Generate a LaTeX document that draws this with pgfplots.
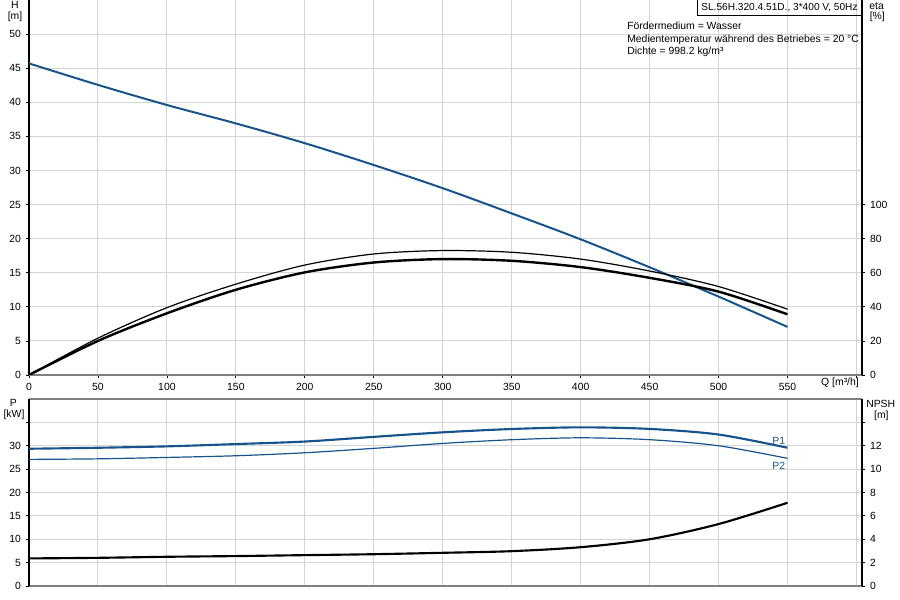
\documentclass[border=0pt]{standalone}
\usepackage{fontspec}
\setmainfont{Liberation Sans}
\usepackage{pgfplots}
\pgfplotsset{compat=1.18}

\definecolor{hblue}{RGB}{24,84,140}
\definecolor{gridgray}{RGB}{212,212,212}

\pgfplotsset{
  pump/.style={
    scale only axis,
    width=624.75pt,
    xmin=0, xmax=604,
    xtick={0,50,...,600},
    tick align=outside,
    major tick length=2.5pt,
    tick style={black, line width=0.6pt},
    grid=major,
    major grid style={gridgray, line width=0.75pt},
    ticklabel style={font=\fontsize{7.8}{9}\selectfont},
    /pgf/number format/assume math mode=true,
    axis line style={line width=0.9pt},
  },
}

\begin{document}
\begin{tikzpicture}[x=1pt,y=1pt]
\path[use as bounding box] (0,0) rectangle (675,450);

% ---- Q-H and efficiency ----
\begin{axis}[pump,
  at={(21.75pt,168.75pt)}, anchor=south west,
  height=281.25pt,
  ymin=0, ymax=55,
  ytick={0,5,...,50},
  xticklabels={0,50,100,150,200,250,300,350,400,450,500,550,},
  axis x line*=bottom, axis y line*=left,
  x axis line style={gray, line width=1pt},
]
\addplot[hblue, line width=1.5pt, smooth] coordinates {
  (0,45.7) (50,42.55) (100,39.6) (150,36.9) (200,34.0) (250,30.8)
  (300,27.4) (350,23.7) (400,19.9) (450,15.8) (500,11.5) (550,7.05)
};
\end{axis}

\begin{axis}[pump,
  at={(21.75pt,168.75pt)}, anchor=south west,
  height=281.25pt,
  ymin=0, ymax=220,
  ytick={0,20,...,100},
  grid=none,
  axis y line*=right, hide x axis,
]
\addplot[black, line width=0.9pt, smooth] coordinates {
  (0,0) (50,21.6) (100,39.5) (150,53.3) (200,64.5) (250,71)
  (300,73) (350,72) (400,68) (450,61) (500,51.9) (550,38.6)
};
\addplot[black, line width=1.8pt, smooth] coordinates {
  (0,0) (50,20) (100,36.2) (150,50) (200,60.2) (250,66)
  (300,68) (350,67) (400,63.3) (450,57) (500,48.9) (550,35.6)
};
\end{axis}

% ---- power and NPSH ----
\begin{axis}[pump,
  at={(21.75pt,10.5pt)}, anchor=south west,
  height=140.25pt,
  ymin=0, ymax=40,
  ytick={0,5,...,35},
  yticklabels={0,5,10,15,20,25,30,},
  xticklabels={},
  axis x line*=box, axis y line*=left,
  x axis line style={gray, line width=1pt},
  xtick style={draw=none},
]
\addplot[hblue, line width=1.6pt, smooth] coordinates {
  (0,29.36) (50,29.57) (100,29.87) (150,30.36) (200,30.9) (250,31.9)
  (300,32.87) (350,33.58) (400,33.94) (450,33.6) (500,32.4) (550,29.57)
};
\addplot[hblue, line width=0.9pt, smooth] coordinates {
  (0,27.08) (50,27.2) (100,27.5) (150,27.86) (200,28.5) (250,29.44)
  (300,30.5) (350,31.29) (400,31.7) (450,31.3) (500,30.0) (550,27.3)
};
\end{axis}

\begin{axis}[pump,
  at={(21.75pt,10.5pt)}, anchor=south west,
  height=140.25pt,
  ymin=0, ymax=16,
  ytick={0,2,...,14},
  yticklabels={0,2,4,6,8,10,12,},
  grid=none,
  axis y line*=right, hide x axis,
]
\addplot[black, line width=1.6pt, smooth] coordinates {
  (0,2.36) (50,2.41) (100,2.5) (150,2.56) (200,2.64) (250,2.72)
  (300,2.84) (350,2.98) (400,3.32) (450,4.0) (500,5.3) (550,7.12)
};
\end{axis}

% ---- labels ----
\begin{scope}[every node/.style={font=\fontsize{7.8}{9}\selectfont, inner sep=0pt}]
\node at (11.25,446) {H};
\node at (11.25,437.5) {[m]};
\node at (657.5,445.5) {eta};
\node at (658,437.25) {[\%]};
\node at (10,147.75) {P};
\node at (10.5,138.75) {[kW]};
\node[anchor=west] at (649.5,147) {NPSH};
\node at (661,138) {[m]};
\node[anchor=base] at (630,160.5) {Q [m³/h]};
\node[hblue] at (584,119.25) {P1};
\node[hblue] at (584,100.7) {P2};
\draw[black, line width=0.6pt] (522.75,450) -- (522.75,438.2) -- (646.5,438.2);
\node[font=\fontsize{7.6}{9}\selectfont] at (584.6,444.3) {SL.56H.320.4.51D., 3*400 V, 50Hz};
\node[anchor=base west] at (470.25,427.5) {Fördermedium = Wasser};
\node[anchor=base west] at (470.25,418.1) {Medientemperatur während des Betriebes = 20 °C};
\node[anchor=base west] at (470.25,408.75) {Dichte = 998.2 kg/m³};
\end{scope}
\end{tikzpicture}
\end{document}
